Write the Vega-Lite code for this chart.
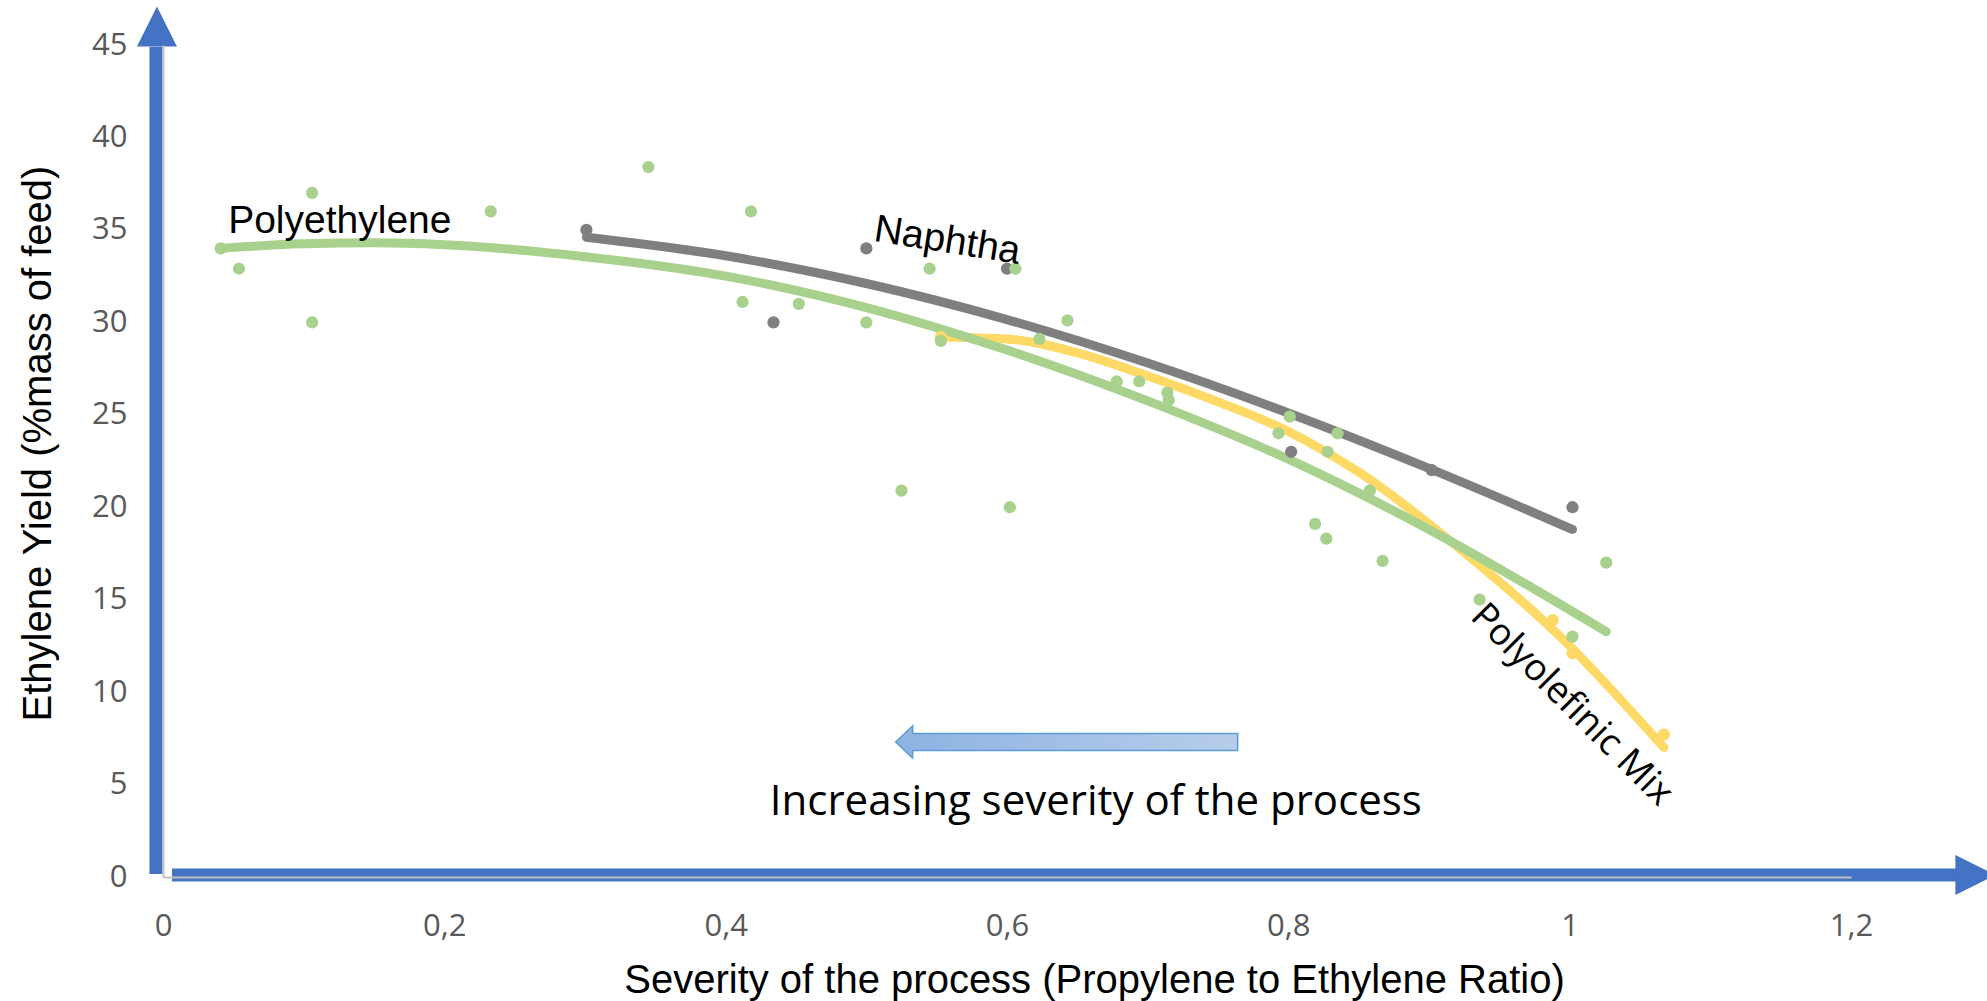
{
  "$schema": "https://vega.github.io/schema/vega-lite/v6.json",
  "width": 1688,
  "height": 832,
  "autosize": {"type": "none"},
  "padding": {"left": 163, "top": 45, "right": 136, "bottom": 124},
  "background": "white",
  "config": {"view": {"stroke": null}},
  "datasets": {
    "axisArrows": [
      {"x": -0.005, "x2": -0.005, "y": 0.16, "y2": 44.9},
      {"x": 0.0064, "x2": 1.2749, "y": 0.108, "y2": 0.108}
    ],
    "arrowHeads": [
      {"x": -0.0043, "y": 46.0, "dir": "up"},
      {"x": 1.2884, "y": 0.108, "dir": "right"}
    ],
    "severityArrow": [
      {"x": 0.6424, "y": 7.3}
    ],
    "curves": [
      {"series": "Polyethylene", "x": 0.041, "y": 34.0},
      {"series": "Polyethylene", "x": 0.1, "y": 34.25},
      {"series": "Polyethylene", "x": 0.15, "y": 34.3},
      {"series": "Polyethylene", "x": 0.2, "y": 34.2},
      {"series": "Polyethylene", "x": 0.3, "y": 33.55},
      {"series": "Polyethylene", "x": 0.4, "y": 32.5},
      {"series": "Polyethylene", "x": 0.5, "y": 30.8},
      {"series": "Polyethylene", "x": 0.6, "y": 28.5},
      {"series": "Polyethylene", "x": 0.7, "y": 25.75},
      {"series": "Polyethylene", "x": 0.8, "y": 22.6},
      {"series": "Polyethylene", "x": 0.9, "y": 18.8},
      {"series": "Polyethylene", "x": 1.026, "y": 13.27},
      {"series": "Naphtha", "x": 0.301, "y": 34.6},
      {"series": "Naphtha", "x": 0.4, "y": 33.6},
      {"series": "Naphtha", "x": 0.5, "y": 32.1},
      {"series": "Naphtha", "x": 0.6, "y": 30.15},
      {"series": "Naphtha", "x": 0.7, "y": 27.8},
      {"series": "Naphtha", "x": 0.8, "y": 25.1},
      {"series": "Naphtha", "x": 0.9, "y": 22.1},
      {"series": "Naphtha", "x": 1.002, "y": 18.8},
      {"series": "Polyolefinic Mix", "x": 0.553, "y": 29.2},
      {"series": "Polyolefinic Mix", "x": 0.6, "y": 29.1},
      {"series": "Polyolefinic Mix", "x": 0.65, "y": 28.35},
      {"series": "Polyolefinic Mix", "x": 0.7, "y": 27.1},
      {"series": "Polyolefinic Mix", "x": 0.75, "y": 25.7},
      {"series": "Polyolefinic Mix", "x": 0.8, "y": 24.1},
      {"series": "Polyolefinic Mix", "x": 0.85, "y": 21.9},
      {"series": "Polyolefinic Mix", "x": 0.918, "y": 18.0},
      {"series": "Polyolefinic Mix", "x": 0.996, "y": 12.8},
      {"series": "Polyolefinic Mix", "x": 1.067, "y": 7.0}
    ],
    "points": [
      {"series": "Naphtha", "x": 0.301, "y": 35.0},
      {"series": "Naphtha", "x": 0.434, "y": 30.0},
      {"series": "Naphtha", "x": 0.5, "y": 34.0},
      {"series": "Naphtha", "x": 0.6, "y": 32.9},
      {"series": "Naphtha", "x": 0.802, "y": 23.0},
      {"series": "Naphtha", "x": 0.902, "y": 22.0},
      {"series": "Naphtha", "x": 1.002, "y": 20.0},
      {"series": "Polyolefinic Mix", "x": 0.553, "y": 29.2},
      {"series": "Polyolefinic Mix", "x": 0.988, "y": 13.9},
      {"series": "Polyolefinic Mix", "x": 1.002, "y": 12.1},
      {"series": "Polyolefinic Mix", "x": 1.067, "y": 7.7},
      {"series": "Polyethylene", "x": 0.041, "y": 34.0},
      {"series": "Polyethylene", "x": 0.054, "y": 32.9},
      {"series": "Polyethylene", "x": 0.106, "y": 37.0},
      {"series": "Polyethylene", "x": 0.106, "y": 30.0},
      {"series": "Polyethylene", "x": 0.233, "y": 36.0},
      {"series": "Polyethylene", "x": 0.345, "y": 38.4},
      {"series": "Polyethylene", "x": 0.412, "y": 31.1},
      {"series": "Polyethylene", "x": 0.418, "y": 36.0},
      {"series": "Polyethylene", "x": 0.452, "y": 31.0},
      {"series": "Polyethylene", "x": 0.5, "y": 30.0},
      {"series": "Polyethylene", "x": 0.525, "y": 20.9},
      {"series": "Polyethylene", "x": 0.545, "y": 32.9},
      {"series": "Polyethylene", "x": 0.553, "y": 29.0},
      {"series": "Polyethylene", "x": 0.602, "y": 20.0},
      {"series": "Polyethylene", "x": 0.606, "y": 32.9},
      {"series": "Polyethylene", "x": 0.623, "y": 29.1},
      {"series": "Polyethylene", "x": 0.643, "y": 30.1},
      {"series": "Polyethylene", "x": 0.678, "y": 26.8},
      {"series": "Polyethylene", "x": 0.694, "y": 26.8},
      {"series": "Polyethylene", "x": 0.714, "y": 26.2},
      {"series": "Polyethylene", "x": 0.715, "y": 25.8},
      {"series": "Polyethylene", "x": 0.793, "y": 24.0},
      {"series": "Polyethylene", "x": 0.801, "y": 24.9},
      {"series": "Polyethylene", "x": 0.819, "y": 19.1},
      {"series": "Polyethylene", "x": 0.827, "y": 18.3},
      {"series": "Polyethylene", "x": 0.828, "y": 23.0},
      {"series": "Polyethylene", "x": 0.835, "y": 24.0},
      {"series": "Polyethylene", "x": 0.858, "y": 20.9},
      {"series": "Polyethylene", "x": 0.867, "y": 17.1},
      {"series": "Polyethylene", "x": 0.936, "y": 15.0},
      {"series": "Polyethylene", "x": 1.002, "y": 13.0},
      {"series": "Polyethylene", "x": 1.026, "y": 17.0}
    ],
    "labelPE": [{"label": "Polyethylene", "x": 0.0463, "y": 34.83}],
    "labelNaphtha": [{"label": "Naphtha", "x": 0.5045, "y": 34.41}],
    "labelPOM": [{"label": "Polyolefinic Mix", "x": 1.0014, "y": 9.3}],
    "labelSeverity": [{"label": "Increasing severity of the process", "x": 0.4314, "y": 3.35}]
  },
  "encoding": {
    "x": {
      "field": "x",
      "type": "quantitative",
      "scale": {"domain": [0, 1.2], "nice": false, "zero": false},
      "axis": {
        "values": [0, 0.2, 0.4, 0.6, 0.8, 1, 1.2],
        "labelExpr": "replace(format(datum.value, '~g'), '.', ',')",
        "labelFont": "Open Sans",
        "labelFontSize": 31,
        "labelColor": "#595959",
        "labelBaseline": "alphabetic",
        "labelAlign": "center",
        "labelPadding": 58,
        "labelFlush": false,
        "labelOverlap": false,
        "labelBound": false,
        "ticks": false,
        "tickSize": 0,
        "grid": false,
        "domain": true,
        "domainColor": "#BFBFBF",
        "domainWidth": 2,
        "zindex": 1,
        "title": "Severity of the process (Propylene to Ethylene Ratio)",
        "titleFont": "Liberation Sans",
        "titleFontSize": 40,
        "titleFontWeight": "normal",
        "titleColor": "#000000",
        "titleX": 931,
        "titleY": 115,
        "titleBaseline": "alphabetic",
        "titleAlign": "center"
      }
    },
    "y": {
      "field": "y",
      "type": "quantitative",
      "scale": {"domain": [0, 45], "nice": false, "zero": false},
      "axis": {
        "values": [0, 5, 10, 15, 20, 25, 30, 35, 40, 45],
        "format": "d",
        "labelFont": "Open Sans",
        "labelFontSize": 31,
        "labelColor": "#595959",
        "labelBaseline": "middle",
        "labelAlign": "right",
        "labelPadding": 36,
        "labelFlush": false,
        "labelOverlap": false,
        "labelBound": false,
        "ticks": false,
        "tickSize": 0,
        "grid": false,
        "domain": true,
        "domainColor": "#BFBFBF",
        "domainWidth": 2,
        "zindex": 1,
        "title": "Ethylene Yield (%mass of feed)",
        "titleFont": "Liberation Sans",
        "titleFontSize": 40,
        "titleFontWeight": "normal",
        "titleColor": "#000000",
        "titleAngle": -90,
        "titleX": -113,
        "titleY": 398,
        "titleBaseline": "alphabetic",
        "titleAlign": "center"
      }
    }
  },
  "layer": [
    {
      "data": {"name": "axisArrows"},
      "mark": {"type": "rule", "color": "#4472C4", "strokeWidth": 13, "strokeCap": "butt"},
      "encoding": {"x2": {"field": "x2"}, "y2": {"field": "y2"}}
    },
    {
      "data": {"name": "arrowHeads"},
      "mark": {"type": "point", "filled": true, "opacity": 1, "color": "#4472C4", "size": 1600},
      "encoding": {
        "shape": {
          "field": "dir",
          "type": "nominal",
          "scale": {"domain": ["up", "right"], "range": ["M-1,1L0,-1L1,1Z", "M-1,-1L1,0L-1,1Z"]},
          "legend": null
        }
      }
    },
    {
      "data": {"name": "severityArrow"},
      "mark": {
        "type": "point",
        "filled": true,
        "opacity": 1,
        "size": 116964,
        "shape": "M-1,0L-0.9006,-0.0936L-0.9006,-0.0497L1,-0.0497L1,0.0497L-0.9006,0.0497L-0.9006,0.0936Z",
        "fill": {
          "gradient": "linear",
          "x1": 0, "y1": 0, "x2": 1, "y2": 0,
          "stops": [{"offset": 0, "color": "#8DB3E2"}, {"offset": 1, "color": "#B7CDEB"}]
        },
        "stroke": "#5B9BD5",
        "strokeWidth": 1.5,
        "strokeOpacity": 1
      }
    },
    {
      "data": {"name": "curves"},
      "transform": [{"filter": "datum.series === 'Polyolefinic Mix'"}],
      "mark": {"type": "line", "color": "#FFD966", "strokeWidth": 9, "strokeCap": "round", "interpolate": "monotone"},
      "encoding": {}
    },
    {
      "data": {"name": "curves"},
      "transform": [{"filter": "datum.series === 'Polyethylene'"}],
      "mark": {"type": "line", "color": "#A9D18E", "strokeWidth": 9, "strokeCap": "round", "interpolate": "monotone"},
      "encoding": {}
    },
    {
      "data": {"name": "curves"},
      "transform": [{"filter": "datum.series === 'Naphtha'"}],
      "mark": {"type": "line", "color": "#7F7F7F", "strokeWidth": 9, "strokeCap": "round", "interpolate": "monotone"},
      "encoding": {}
    },
    {
      "data": {"name": "points"},
      "mark": {"type": "circle", "size": 150, "opacity": 1},
      "encoding": {
        "color": {
          "field": "series",
          "type": "nominal",
          "scale": {"domain": ["Naphtha", "Polyolefinic Mix", "Polyethylene"], "range": ["#7F7F7F", "#FFD966", "#A9D18E"]},
          "legend": null
        }
      }
    },
    {
      "data": {"name": "labelPE"},
      "mark": {"type": "text", "font": "Liberation Sans", "fontSize": 39, "color": "#000000", "align": "left", "baseline": "alphabetic"},
      "encoding": {"text": {"field": "label"}}
    },
    {
      "data": {"name": "labelNaphtha"},
      "mark": {"type": "text", "font": "Liberation Sans", "fontSize": 39, "color": "#000000", "align": "left", "baseline": "alphabetic", "angle": 9},
      "encoding": {"text": {"field": "label"}}
    },
    {
      "data": {"name": "labelPOM"},
      "mark": {"type": "text", "font": "Open Sans", "fontSize": 37, "color": "#000000", "align": "center", "baseline": "middle", "angle": 45},
      "encoding": {"text": {"field": "label"}}
    },
    {
      "data": {"name": "labelSeverity"},
      "mark": {"type": "text", "font": "Open Sans", "fontSize": 42, "color": "#000000", "align": "left", "baseline": "alphabetic"},
      "encoding": {"text": {"field": "label"}}
    }
  ]
}
